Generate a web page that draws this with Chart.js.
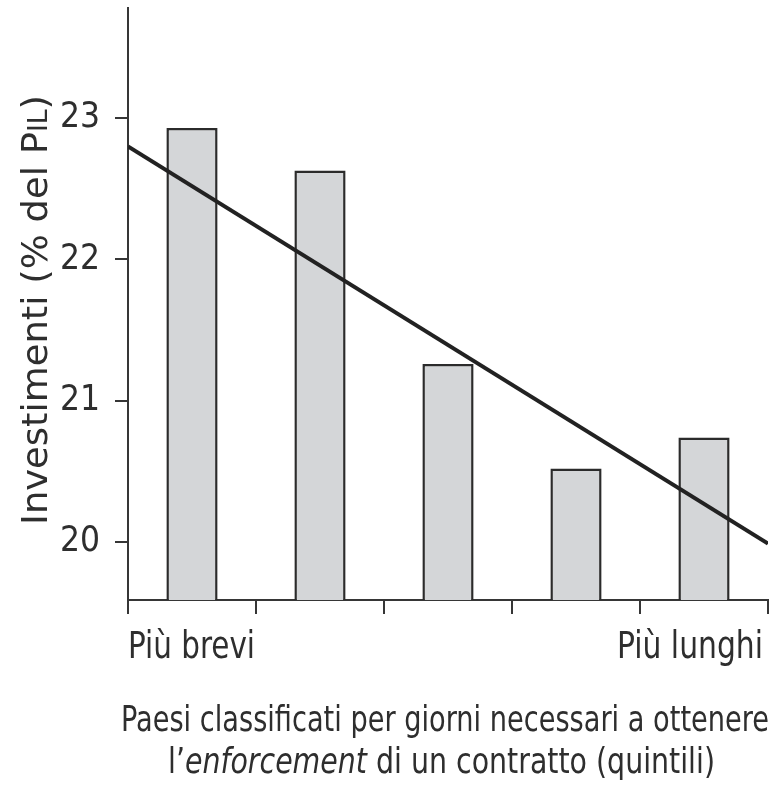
<!DOCTYPE html>
<html>
<head>
<meta charset="utf-8">
<script src="https://cdn.jsdelivr.net/npm/chart.js@4/dist/chart.umd.min.js"></script>
<style>
  html, body { margin: 0; padding: 0; background: #ffffff; }
  #wrap { width: 771px; height: 785px; position: relative; }
</style>
</head>
<body>
<div id="wrap"><canvas id="c" width="771" height="785"></canvas></div>
<script>
// ---- data ----
const categories = ['Q1', 'Q2', 'Q3', 'Q4', 'Q5'];
const edgeLabels = ['Più brevi', 'Più lunghi'];
const investimenti = [22.93, 22.63, 21.26, 20.52, 20.74];
const trendX = [0, 5];
const trendY = [22.80, 19.99];
const yTicks = [20, 21, 22, 23];
const yMin = 19.59;
const yMax = 23.78;
const yTitleMain = 'Investimenti (% del P';
const yTitleSmall = 'IL';
const yTitleEnd = ')';
const xTitleLine1 = 'Paesi classificati per giorni necessari a ottenere';
const xTitleLine2 = [["l’", false], ["enforcement", true], [" di un contratto (quintili)", false]];

const FONT = "'Liberation Sans Narrow', 'Arial Narrow', 'DejaVu Sans Condensed', sans-serif";
const TEXT = '#2e2e2e';
const AXIS = '#363636';

// draw a run of [text, italic, size] parts fitted to a target width
function drawParts(ctx, parts, size, x0, baseline, targetW) {
  ctx.save();
  const fonts = parts.map(p => (p[1] ? 'italic ' : '') + (p[2] || size) + 'px ' + FONT);
  let total = 0;
  const widths = parts.map((p, i) => { ctx.font = fonts[i]; const w = ctx.measureText(p[0]).width; total += w; return w; });
  const sx = targetW ? targetW / total : 1;
  ctx.translate(x0, baseline);
  ctx.scale(sx, 1);
  ctx.fillStyle = TEXT;
  ctx.textBaseline = 'alphabetic';
  ctx.textAlign = 'left';
  let x = 0;
  parts.forEach((p, i) => { ctx.font = fonts[i]; ctx.fillText(p[0], x, 0); x += widths[i]; });
  ctx.restore();
}

const titlesPlugin = {
  id: 'titles',
  afterDraw(chart) {
    const ctx = chart.ctx;
    const xs = chart.scales.x;
    const half = (xs.getPixelForValue(1) - xs.getPixelForValue(0)) / 2;
    const firstStart = xs.getPixelForValue(0) - half;
    const lastEnd = xs.getPixelForValue(categories.length - 1) + half;
    // edge labels
    drawParts(ctx, [[edgeLabels[0], false]], 37, firstStart, 658, 127);
    drawParts(ctx, [[edgeLabels[1], false]], 37, lastEnd - 5 - 146, 658, 146);
    // x title
    drawParts(ctx, [[xTitleLine1, false]], 35, 121, 731, 648);
    drawParts(ctx, xTitleLine2, 35, 168, 773, 547);
    // y title (rotated)
    ctx.save();
    ctx.translate(47, 525);
    ctx.rotate(-Math.PI / 2);
    drawParts(ctx, [[yTitleMain, false], [yTitleSmall, false, 26], [yTitleEnd, false]], 36, 0, 0, 430);
    ctx.restore();
  }
};

new Chart(document.getElementById('c'), {
  type: 'bar',
  data: {
    labels: categories,
    datasets: [
      {
        type: 'line',
        data: trendX.map((x, i) => ({ x: x, y: trendY[i] })),
        xAxisID: 'x2',
        yAxisID: 'y',
        borderColor: '#222222',
        borderWidth: 4,
        pointRadius: 0,
        fill: false,
        tension: 0
      },
      {
        type: 'bar',
        data: investimenti,
        xAxisID: 'x',
        yAxisID: 'y',
        base: yMin,
        grouped: false,
        backgroundColor: '#d4d6d8',
        borderColor: '#2b2b2b',
        borderWidth: 2.5,
        borderSkipped: 'start',
        barPercentage: 0.4,
        categoryPercentage: 1.0
      }
    ]
  },
  options: {
    responsive: false,
    devicePixelRatio: 1,
    animation: false,
    layout: { padding: { top: 8, right: 3, left: 0, bottom: 0 } },
    plugins: { legend: { display: false }, tooltip: { enabled: false }, title: { display: false } },
    scales: {
      x: {
        type: 'category',
        offset: true,
        border: { display: true, color: AXIS, width: 2 },
        grid: { offset: true, drawOnChartArea: false, drawTicks: true, tickLength: 14, color: AXIS, lineWidth: 2 },
        ticks: { display: false },
        afterFit(s) { s.height = 185; s.paddingLeft = 0; s.paddingRight = 0; }
      },
      x2: {
        type: 'linear',
        display: false,
        offset: false,
        grid: { offset: false },
        min: trendX[0],
        max: trendX[1]
      },
      y: {
        type: 'linear',
        min: yMin,
        max: yMax,
        border: { display: true, color: AXIS, width: 2 },
        grid: { drawOnChartArea: false, drawTicks: true, tickLength: 13, color: AXIS, lineWidth: 2 },
        afterBuildTicks(s) { s.ticks = yTicks.map(v => ({ value: v })); },
        ticks: { color: TEXT, font: { family: FONT, size: 35 }, padding: 15, callback: v => String(v) },
        afterFit(s) { s.width = 128; s.paddingTop = 0; s.paddingBottom = 0; }
      }
    }
  },
  plugins: [titlesPlugin]
});
</script>
</body>
</html>
